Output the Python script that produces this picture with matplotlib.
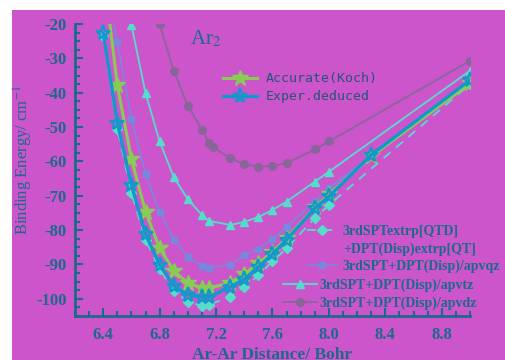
import matplotlib
matplotlib.use("Agg")
import matplotlib.pyplot as plt
from matplotlib.lines import Line2D
from matplotlib.patches import Rectangle

# data (Ar-Ar distance in Bohr, binding energy in cm-1)
r_main = [6.4, 6.5, 6.6, 6.7, 6.8, 6.9, 7.0, 7.1, 7.15, 7.3, 7.4, 7.5, 7.6, 7.7, 7.9, 8.0, 8.3, 9.0]
koch = [-4, -37.8, -59.4, -74.6, -85.3, -91.8, -95.4, -96.9, -96.9, -95.3, -92.8, -89.6, -86.4, -82.3, -73.4, -69.6, -58.5, -37.3]
exper = [-22.6, -48.7, -66.8, -81.2, -90.1, -96.2, -98.8, -99.5, -99.5, -96.5, -94.3, -90.7, -87.0, -82.8, -73.6, -70.2, -58.1, -36.3]

r_extrp = [6.4, 6.5, 6.6, 6.7, 6.8, 6.9, 7.0, 7.1, 7.15, 7.3, 7.4, 7.5, 7.6, 7.7, 7.9, 8.0, 9.0]
extrp = [-23.5, -50.5, -69.3, -82.8, -91.4, -97.7, -100.8, -102.0, -101.7, -99.4, -96.5, -93.2, -89.1, -85.3, -76.5, -72.7, -37.5]
apvqz = [-2, -25.3, -47.6, -63.6, -74.8, -82.8, -87.9, -90.4, -90.9, -90.1, -87.2, -85.5, -82.5, -79.0, -71.7, -67.8, -36.0]

r_tz = [6.6, 6.7, 6.8, 6.9, 7.0, 7.1, 7.15, 7.3, 7.4, 7.5, 7.6, 7.7, 7.9, 8.0, 9.0]
apvtz = [-20.3, -40.1, -54.2, -64.6, -71.0, -75.6, -77.3, -78.5, -77.6, -76.2, -74.1, -71.7, -65.9, -63.0, -33.6]

r_dz = [6.8, 6.9, 7.0, 7.1, 7.15, 7.18, 7.3, 7.4, 7.5, 7.6, 7.7, 7.9, 8.0, 9.0]
apvdz = [-20.0, -33.7, -43.8, -50.8, -54.7, -55.9, -59.1, -60.8, -61.5, -61.3, -60.5, -56.5, -54.2, -30.7]

bg = '#cc55cc'
ink = '#1b6a8a'
c_koch = '#88cc55'
c_exp = '#1199cc'
c_aqua = '#55ddcc'
c_qz = '#7788dd'
c_dz = '#886699'

plt.rcParams['font.family'] = 'Liberation Serif'
plt.rcParams['mathtext.fontset'] = 'stix'
plt.rcParams['axes.unicode_minus'] = False

fig = plt.figure(figsize=(5.05, 3.6), dpi=100)
fig.patch.set_facecolor('white')
fig.add_artist(Rectangle((12/505, 0), 1 - 12/505, 1 - 10/360, transform=fig.transFigure,
                         facecolor=bg, edgecolor='none', zorder=-10))

ax = fig.add_axes([75/505, 1 - 316/360, 395/505, 292/360])
ax.set_facecolor('none')

ax.plot(r_dz, apvdz, '-o', color=c_dz, lw=1.3, ms=5.5)
ax.plot(r_tz, apvtz, '-^', color=c_aqua, lw=1.3, ms=6)
ax.plot(r_extrp, apvqz, '-s', color=c_qz, lw=1.2, ms=4.5)
ax.plot(r_extrp, extrp, '--D', color=c_aqua, lw=1.3, ms=5, dashes=(5, 4))
ax.plot(r_main, koch, '-*', color=c_koch, lw=2.2, ms=12)
ax.plot(r_main, exper, '-*', color=c_exp, lw=2.4, ms=11, mfc='none', mew=1.6)

ax.set_xlim(6.2, 9.0)
ax.set_ylim(-105, -20)
ax.set_xticks([6.4, 6.8, 7.2, 7.6, 8.0, 8.4, 8.8])
ax.set_xticks([6.2 + 0.1 * i for i in range(29)], minor=True)
ax.set_yticks([-100, -90, -80, -70, -60, -50, -40, -30, -20])
ax.set_yticks([-105 + 2.5 * i for i in range(35)], minor=True)

for s in ['top', 'right']:
    ax.spines[s].set_visible(False)
for s in ['left', 'bottom']:
    ax.spines[s].set_color(ink)
    ax.spines[s].set_linewidth(2)
ax.tick_params(which='both', direction='in', color=ink, width=1.5)
ax.tick_params(which='major', length=6, labelsize=12, labelcolor=ink)
ax.tick_params(axis='x', which='major', pad=8)
ax.tick_params(axis='y', which='major', pad=6)
ax.tick_params(which='minor', length=3.5)
for lab in ax.get_xticklabels() + ax.get_yticklabels():
    lab.set_fontweight('bold')

ax.set_xlabel('Ar-Ar Distance/ Bohr', fontsize=12.5, fontweight='bold', color=ink, labelpad=3)
ax.set_ylabel('Binding Energy/ cm$^{-1}$', fontsize=12, color=ink)
ax.yaxis.set_label_coords(-0.1, 0.535)

ax.text(0.29, 0.95, 'Ar$_2$', transform=ax.transAxes, fontsize=15, color=ink,
        ha='left', va='center')

# upper legend
h1 = [Line2D([], [], color=c_koch, lw=2.2, marker='*', ms=12),
      Line2D([], [], color=c_exp, lw=2.4, marker='*', ms=11, mfc='none', mew=1.6)]
leg1 = ax.legend(h1, ['Accurate(Koch)', 'Exper.deduced'], loc='upper left',
                 bbox_to_anchor=(0.375, 0.835), frameon=False, handlelength=2.6,
                 handletextpad=0.6, labelspacing=0.38, borderpad=0, borderaxespad=0,
                 prop={'family': 'DejaVu Sans Mono', 'size': 9.5})
for t in leg1.get_texts():
    t.set_color('#225577')
ax.add_artist(leg1)

# lower legends
h2 = [Line2D([], [], color=c_aqua, lw=1.3, marker='D', ms=5, dashes=(5, 4)),
      Line2D([], [], color='none'),
      Line2D([], [], color=c_qz, lw=1.2, marker='s', ms=4.5)]
leg2 = ax.legend(h2, ['3rdSPTextrp[QTD]', '+DPT(Disp)extrp[QT]', '3rdSPT+DPT(Disp)/apvqz'],
                 loc='upper left', bbox_to_anchor=(0.587, 0.312), frameon=False,
                 handlelength=2.2, handletextpad=0.4, labelspacing=0.3, borderpad=0,
                 borderaxespad=0, prop={'weight': 'bold', 'size': 10})
for t in leg2.get_texts():
    t.set_color(ink)
ax.add_artist(leg2)

h3 = [Line2D([], [], color=c_aqua, lw=1.3, marker='^', ms=6),
      Line2D([], [], color=c_dz, lw=1.3, marker='o', ms=5.5)]
leg3 = ax.legend(h3, ['3rdSPT+DPT(Disp)/apvtz', '3rdSPT+DPT(Disp)/apvdz'],
                 loc='upper left', bbox_to_anchor=(0.527, 0.127), frameon=False,
                 handlelength=2.45, handletextpad=0.2, labelspacing=0.3, borderpad=0,
                 borderaxespad=0, prop={'weight': 'bold', 'size': 10})
for t in leg3.get_texts():
    t.set_color(ink)

fig.savefig('out.png', dpi=100)
